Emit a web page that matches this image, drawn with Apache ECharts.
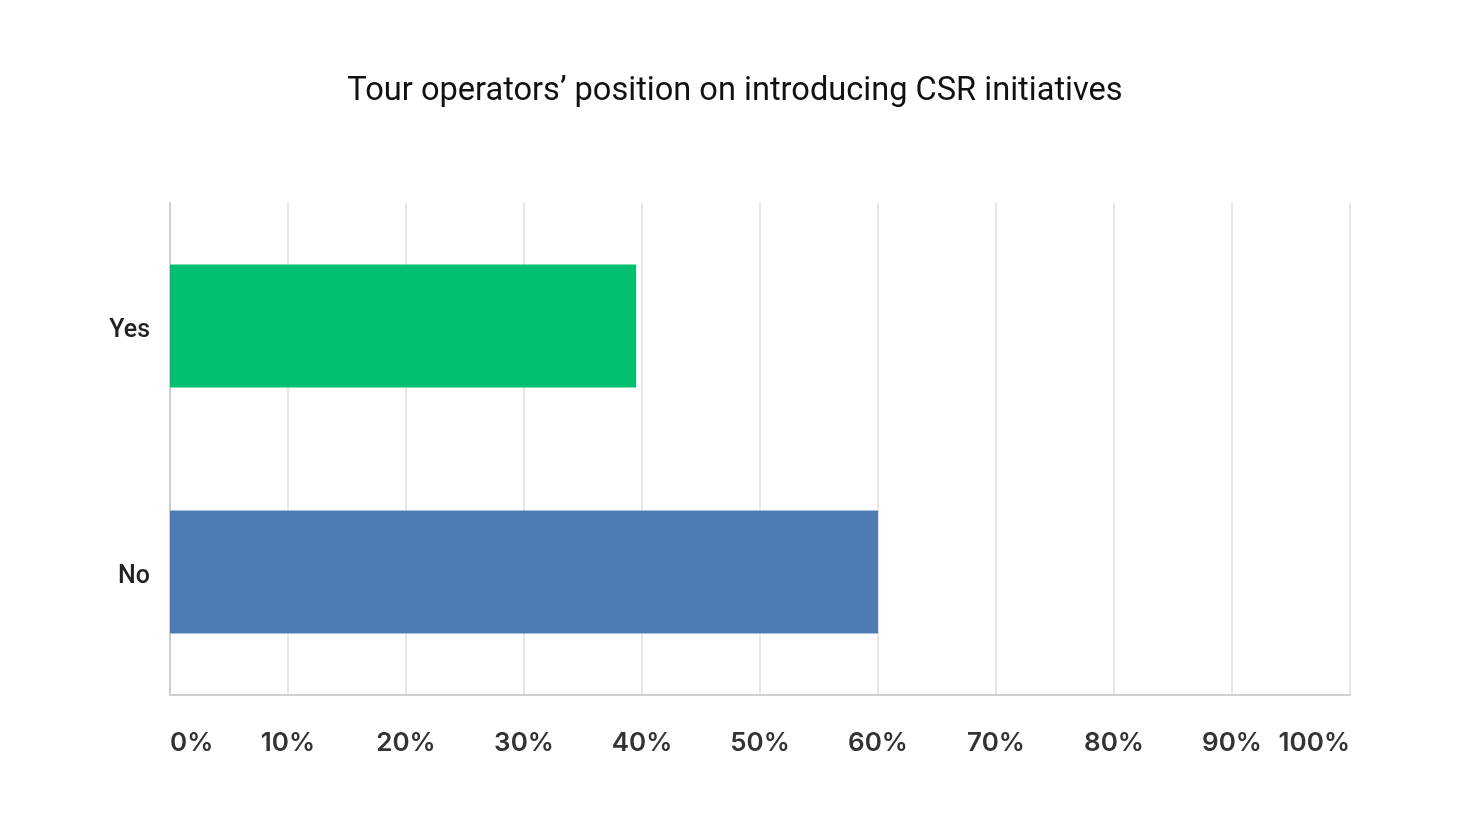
<!DOCTYPE html>
<html>
<head>
<meta charset="utf-8">
<script src="https://cdn.jsdelivr.net/npm/echarts@6/dist/echarts.min.js"></script>
<style>
  html, body { margin: 0; padding: 0; background: #fff; }
  #chart { width: 1470px; height: 823px; }
</style>
</head>
<body>
<div id="chart"></div>
<script>
var categories = ['Yes', 'No'];
var values = [39.5, 60];
var barColors = ['#00bf6f', '#4f7bb5'];
var tickStep = 10;

var myChart = echarts.init(document.getElementById('chart'));
var option = {
    title: {
        text: 'Tour operators\u2019 position on introducing CSR initiatives',
        left: 'center',
        top: 70,
        textStyle: { fontFamily: 'Roboto', fontSize: 32.6, fontWeight: 'normal', color: '#111' }
    },
    grid: { left: 170, right: 120, top: 203, bottom: 128, containLabel: false },
    xAxis: {
        type: 'value',
        min: 0,
        max: 100,
        interval: tickStep,
        axisLine: { show: true, lineStyle: { color: '#cfcfcf', width: 2 } },
        axisTick: { show: false },
        splitLine: { show: true, lineStyle: { color: '#e6e6e6', width: 2 } },
        axisLabel: {
            formatter: '{value}%',
            margin: 35,
            fontFamily: 'Inter',
            fontWeight: 600,
            fontSize: 26,
            color: '#333',
            alignMinLabel: 'left',
            alignMaxLabel: 'right'
        }
    },
    yAxis: {
        type: 'category',
        data: categories,
        inverse: true,
        axisLine: { show: true, lineStyle: { color: '#cfcfcf', width: 2 } },
        axisTick: { show: false },
        axisLabel: {
            margin: 20,
            formatter: '{c|{value}}',
            rich: {
                c: {
                    padding: [10, 0, 0, 0],
                    fontFamily: 'Roboto',
                    fontWeight: 500,
                    fontSize: 25,
                    color: '#222'
                }
            }
        }
    },
    series: [{
        type: 'bar',
        barCategoryGap: '50%',
        data: values.map(function (v, i) {
            return { value: v, itemStyle: { color: barColors[i] } };
        })
    }]
};
myChart.setOption(option);
</script>
</body>
</html>
